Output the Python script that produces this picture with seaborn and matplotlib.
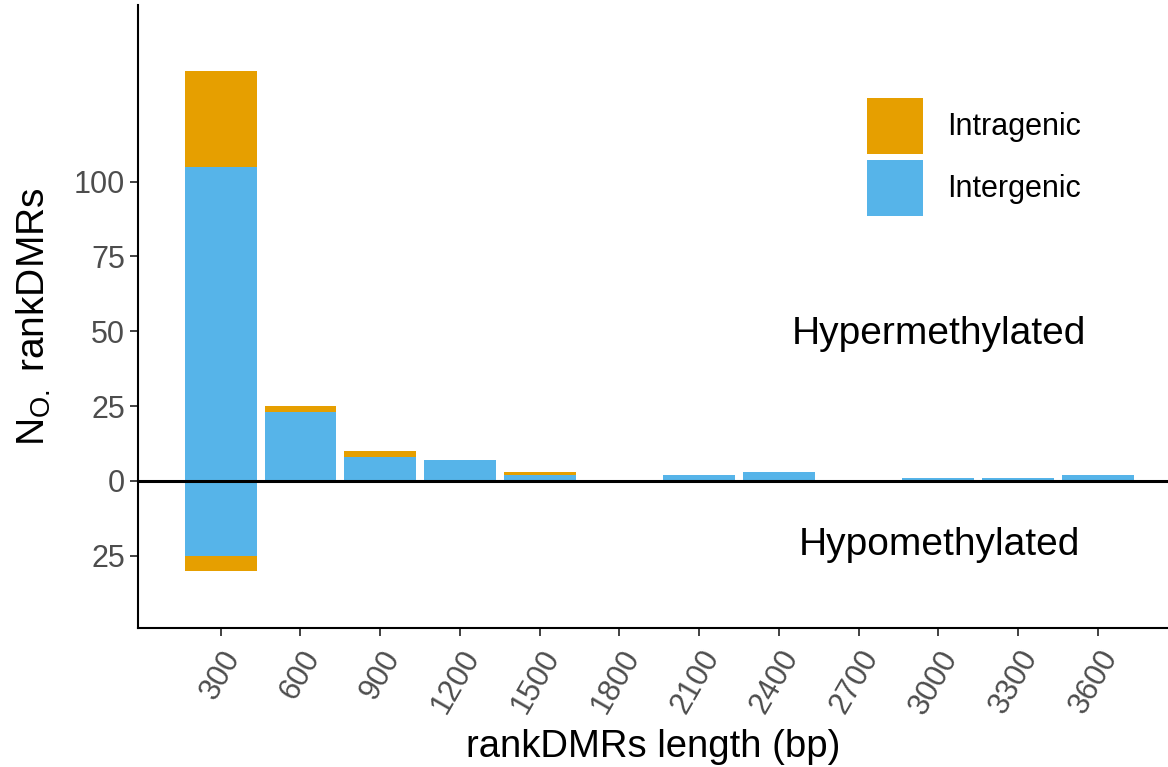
import matplotlib
matplotlib.use("Agg")
import matplotlib.pyplot as plt
import seaborn as sns
import pandas as pd
from matplotlib.patches import Patch

lengths = ["300", "600", "900", "1200", "1500", "1800", "2100", "2400", "2700", "3000", "3300", "3600"]
hyper_intergenic = [105, 23, 8, 7, 2, 0, 2, 3, 0, 1, 1, 2]
hyper_intragenic = [32, 2, 2, 0, 1, 0, 0, 0, 0, 0, 0, 0]
hypo_intergenic = [25, 0, 0, 0, 0, 0, 0, 0, 0, 0, 0, 0]
hypo_intragenic = [5, 0, 0, 0, 0, 0, 0, 0, 0, 0, 0, 0]

ORANGE = "#E69F00"
BLUE = "#56B4E9"

sns.set_theme(style="white")
plt.rcParams["font.family"] = ["Liberation Sans", "DejaVu Sans"]
plt.rcParams["mathtext.fontset"] = "custom"
plt.rcParams["mathtext.rm"] = "Liberation Sans"

df = pd.DataFrame({
    "length": lengths,
    "hyper_total": [a + b for a, b in zip(hyper_intergenic, hyper_intragenic)],
    "hyper_inter": hyper_intergenic,
    "hypo_total": [-(a + b) for a, b in zip(hypo_intergenic, hypo_intragenic)],
    "hypo_inter": [-a for a in hypo_intergenic],
})

fig = plt.figure(figsize=(11.68, 7.67), dpi=100)
ax = fig.add_axes([0.118, 0.181, 0.882, 0.8125])

for col, color in [("hyper_total", ORANGE), ("hyper_inter", BLUE),
                   ("hypo_total", ORANGE), ("hypo_inter", BLUE)]:
    sns.barplot(data=df, x="length", y=col, order=lengths, color=color,
                width=0.9, saturation=1, ax=ax, errorbar=None,
                edgecolor="none", linewidth=0)

ax.axhline(0, color="black", lw=2.2, zorder=5)

ax.set_xlim(-1.04, 11.88)
ax.set_ylim(-49.2, 159)
ax.set_yticks([-25, 0, 25, 50, 75, 100])
ax.set_yticklabels(["25", "0", "25", "50", "75", "100"])
ax.tick_params(axis="y", labelsize=22, labelcolor="#4d4d4d", length=6, width=1.3,
               color="#333333", left=True, pad=3)
ax.tick_params(axis="x", labelsize=22, labelcolor="#4d4d4d", length=6, width=1.3,
               color="#333333", bottom=True, pad=6)
for lbl in ax.get_xticklabels():
    lbl.set_rotation(60)
    lbl.set_ha("right")
    lbl.set_va("top")
    lbl.set_rotation_mode("anchor")

ax.set_xlabel("rankDMRs length (bp)", fontsize=27.5, color="black", labelpad=7)
ax.set_ylabel(r"N$_{\mathrm{O.}}$ rankDMRs", fontsize=28, color="black", labelpad=15)

for s in ["top", "right"]:
    ax.spines[s].set_visible(False)
for s in ["left", "bottom"]:
    ax.spines[s].set_color("black")
    ax.spines[s].set_linewidth(1.5)

fig.text(0.804, 0.5645, "Hypermethylated", fontsize=28, ha="center", va="center", color="black")
fig.text(0.804, 0.2895, "Hypomethylated", fontsize=28, ha="center", va="center", color="black")

handles = [Patch(facecolor=ORANGE, edgecolor="none", label="Intragenic"),
           Patch(facecolor=BLUE, edgecolor="none", label="Intergenic")]
leg = fig.legend(handles=handles, loc="upper left", bbox_to_anchor=(0.7423, 0.8722),
                 frameon=False, fontsize=22, handlelength=1.83, handleheight=2.44,
                 labelspacing=0.19, handletextpad=0.8, borderpad=0, borderaxespad=0)
for t in leg.get_texts():
    t.set_color("black")

fig.savefig("out.png", dpi=100)
